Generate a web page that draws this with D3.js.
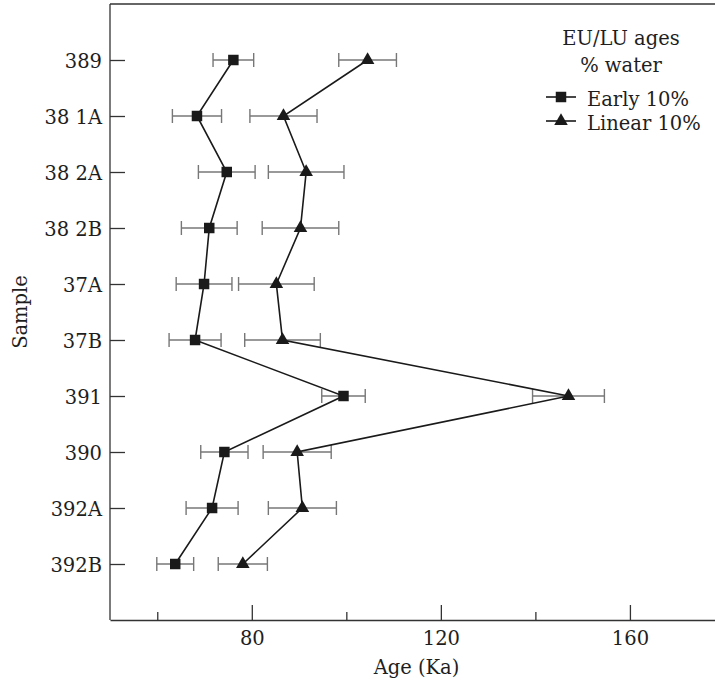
<!DOCTYPE html>
<html>
<head>
<meta charset="utf-8">
<script src="https://cdn.jsdelivr.net/npm/d3@7"></script>
<style>
  html, body { margin: 0; padding: 0; background: #fff; }
  svg { display: block; }
  svg text { font-family: 'DejaVu Serif', 'Liberation Serif', serif !important; fill: #1e1e1e; }
</style>
</head>
<body>
<div id="chart"></div>
<script>
// ---- data ----
const categories = ["389", "38 1A", "38 2A", "38 2B", "37A", "37B", "391", "390", "392A", "392B"];
const earlyValues = [76.1, 68.4, 74.7, 71.0, 69.9, 68.0, 99.4, 74.2, 71.6, 63.8];
const earlyErrors = [4.3, 5.2, 6.0, 5.9, 5.9, 5.5, 4.6, 5.0, 5.5, 3.9];
const linearValues = [104.5, 86.7, 91.5, 90.3, 85.2, 86.5, 147.0, 89.6, 90.7, 78.1];
const linearErrors = [6.1, 7.1, 8.0, 8.1, 8.0, 8.0, 7.6, 7.2, 7.2, 5.2];
const majorTicks = [80, 120, 160];
const minorTicks = [60, 100, 140];
const seriesNames = ["Early 10%", "Linear 10%"];
const legendTitle = ["EU/LU ages", "% water"];
const xTitle = "Age (Ka)";
const yTitle = "Sample";

// ---- layout ----
const W = 715, H = 680;
const mLeft = 110, mRight = 715, mTop = 4, mBottom = 620;
const FS = "19.5px";

const svg = d3.select("#chart").append("svg").attr("width", W).attr("height", H);

const x = d3.scaleLinear().domain([50, 178]).range([mLeft, mRight]);
const y = d3.scalePoint().domain(categories).range([mTop, mBottom]).padding(1);

const axisColor = "#333";

// frame: top line
svg.append("line").attr("x1", mLeft).attr("x2", mRight).attr("y1", mTop).attr("y2", mTop)
  .attr("stroke", axisColor).attr("stroke-width", 1.3);

// bottom axis (major ticks, inward)
const xAxis = svg.append("g").attr("transform", `translate(0,${mBottom})`)
  .call(d3.axisBottom(x).tickValues(majorTicks).tickSize(-15).tickSizeOuter(0).tickPadding(25));
xAxis.attr("font-family", null).attr("font-size", null);
xAxis.select(".domain").attr("stroke", axisColor).attr("stroke-width", 1.3);
xAxis.selectAll(".tick line").attr("stroke", axisColor).attr("stroke-width", 1.3);
xAxis.selectAll(".tick text").style("font-size", FS).attr("fill", "#1e1e1e").attr("dy", "0");
// minor ticks
const xMinor = svg.append("g").attr("transform", `translate(0,${mBottom})`)
  .call(d3.axisBottom(x).tickValues(minorTicks).tickSize(-8).tickSizeOuter(0).tickFormat(""));
xMinor.select(".domain").remove();
xMinor.selectAll(".tick line").attr("stroke", axisColor).attr("stroke-width", 1.3);

// left axis (inward ticks)
const yAxis = svg.append("g").attr("transform", `translate(${mLeft},0)`)
  .call(d3.axisLeft(y).tickSize(-15).tickSizeOuter(0).tickPadding(8));
yAxis.attr("font-family", null).attr("font-size", null);
yAxis.select(".domain").attr("stroke", axisColor).attr("stroke-width", 1.3)
  .attr("d", `M0,${mTop}V${mBottom}`);
yAxis.selectAll(".tick line").attr("stroke", axisColor).attr("stroke-width", 1.3);
yAxis.selectAll(".tick text").style("font-size", FS).attr("fill", "#1e1e1e")
  .attr("x", -8).attr("dy", "0.37em");

// axis titles
svg.append("text").attr("x", (mLeft + mRight) / 2 + 4).attr("y", 674).attr("text-anchor", "middle")
  .style("font-size", FS).text(xTitle);
svg.append("text").attr("transform", `translate(27,${(mTop + mBottom) / 2}) rotate(-90)`)
  .attr("text-anchor", "middle").style("font-size", FS).text(yTitle);

// ---- series ----
const series = [
  { name: seriesNames[0], values: earlyValues, errors: earlyErrors, symbol: d3.symbolSquare, size: 110 },
  { name: seriesNames[1], values: linearValues, errors: linearErrors, symbol: d3.symbolTriangle, size: 80 }
];

const capH = 7;
series.forEach(s => {
  const pts = categories.map((c, i) => ({ c, v: s.values[i], e: s.errors[i] }));
  const g = svg.append("g");
  // error bars
  const eb = g.append("g").attr("stroke", "#777").attr("stroke-width", 1.4).attr("fill", "none");
  pts.forEach(p => {
    const yy = y(p.c);
    eb.append("line").attr("x1", x(p.v - p.e)).attr("x2", x(p.v + p.e)).attr("y1", yy).attr("y2", yy);
    eb.append("line").attr("x1", x(p.v - p.e)).attr("x2", x(p.v - p.e)).attr("y1", yy - capH).attr("y2", yy + capH);
    eb.append("line").attr("x1", x(p.v + p.e)).attr("x2", x(p.v + p.e)).attr("y1", yy - capH).attr("y2", yy + capH);
  });
  // connecting line
  g.append("path").datum(pts)
    .attr("d", d3.line().x(p => x(p.v)).y(p => y(p.c)))
    .attr("fill", "none").attr("stroke", "#1a1a1a").attr("stroke-width", 1.6);
  // markers
  g.selectAll("path.m").data(pts).enter().append("path").attr("class", "m")
    .attr("transform", p => `translate(${x(p.v)},${y(p.c)})`)
    .attr("d", d3.symbol().type(s.symbol).size(s.size))
    .attr("fill", "#1a1a1a");
});

// ---- legend ----
const lg = svg.append("g");
lg.append("text").attr("x", 621).attr("y", 45).attr("text-anchor", "middle").style("font-size", FS).text(legendTitle[0]);
lg.append("text").attr("x", 621).attr("y", 72).attr("text-anchor", "middle").style("font-size", FS).text(legendTitle[1]);
series.forEach((s, i) => {
  const ly = 97 + i * 24;
  lg.append("line").attr("x1", 546).attr("x2", 576).attr("y1", ly).attr("y2", ly)
    .attr("stroke", "#1a1a1a").attr("stroke-width", 1.6);
  lg.append("path").attr("transform", `translate(561,${ly})`)
    .attr("d", d3.symbol().type(s.symbol).size(s.size)).attr("fill", "#1a1a1a");
  lg.append("text").attr("x", 587).attr("y", ly + 9).style("font-size", FS).text(s.name);
});
</script>
</body>
</html>
